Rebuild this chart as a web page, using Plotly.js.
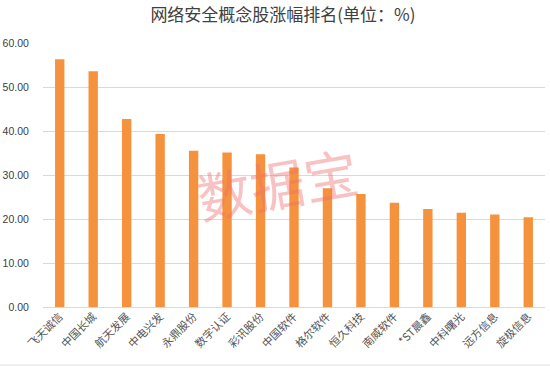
<!DOCTYPE html>
<html>
<head>
<meta charset="utf-8">
<script src="https://cdn.plot.ly/plotly-3.0.1.min.js"></script>
<style>html,body{margin:0;padding:0;background:#fff;}#chart{width:550px;height:368px;}</style>
</head>
<body>
<div id="chart"></div>
<script>
const categories = ['飞天诚信','中国长城','航天发展','中电兴发','永鼎股份','数字认证','彩讯股份','中国软件','格尔软件','恒久科技','南威软件','*ST晨鑫','中科曙光','远方信息','旋极信息'];
const gains = [56.3, 53.6, 42.7, 39.3, 35.5, 35.1, 34.7, 31.7, 27.0, 25.7, 23.7, 22.3, 21.4, 21.0, 20.4];
const yTicks = [0, 10, 20, 30, 40, 50, 60];
const titleText = '网络安全概念股涨幅排名(单位：%)';
const watermark = '数据宝';

const trace = {
  type: 'bar',
  x: categories,
  y: gains,
  marker: {color: '#F5923E', line: {width: 0}},
  width: 0.28,
  hoverinfo: 'x+y'
};

const layout = {
  width: 550, height: 368,
  margin: {l: 43, r: 5, t: 43, b: 61},
  paper_bgcolor: '#ffffff', plot_bgcolor: '#ffffff',
  showlegend: false,
  title: {
    text: titleText,
    x: 0.478, xanchor: 'center', xref: 'paper',
    y: 0.958, yanchor: 'middle', yref: 'container',
    font: {family: '"Noto Sans CJK SC", sans-serif', size: 17, color: '#404040'}
  },
  xaxis: {
    type: 'category',
    tickangle: -45,
    tickfont: {family: '"Noto Sans CJK SC", sans-serif', size: 11, color: '#555555'},
    showgrid: false, zeroline: false,
    showline: false,
    ticks: '', ticklen: 0,
    fixedrange: true
  },
  yaxis: {
    range: [0, 60],
    tickvals: yTicks,
    tickformat: '.2f',
    tickfont: {family: 'Arial, "Liberation Sans", sans-serif', size: 10.5, color: '#404040'},
    showgrid: true, gridcolor: '#d9d9d9', gridwidth: 1,
    zeroline: true, zerolinecolor: '#d9d9d9', zerolinewidth: 1,
    showline: false,
    ticks: 'outside', ticklen: 11, tickcolor: 'rgba(0,0,0,0)',
    fixedrange: true
  },
  shapes: [{
    type: 'line', xref: 'paper', yref: 'paper',
    x0: -0.086, x1: 1.01, y0: -0.22, y1: -0.22,
    line: {color: '#e0e0e0', width: 1}
  }],
  annotations: [{
    text: watermark, xref: 'paper', yref: 'paper',
    x: (277 - 43) / 502, y: (307 - 182) / 264,
    xanchor: 'center', yanchor: 'middle',
    showarrow: false, textangle: -10,
    font: {family: '"Noto Sans CJK SC", sans-serif', size: 54, color: 'rgba(238,110,110,0.42)'}
  }]
};

Plotly.newPlot('chart', [trace], layout, {displayModeBar: false, staticPlot: true});
</script>
</body>
</html>
